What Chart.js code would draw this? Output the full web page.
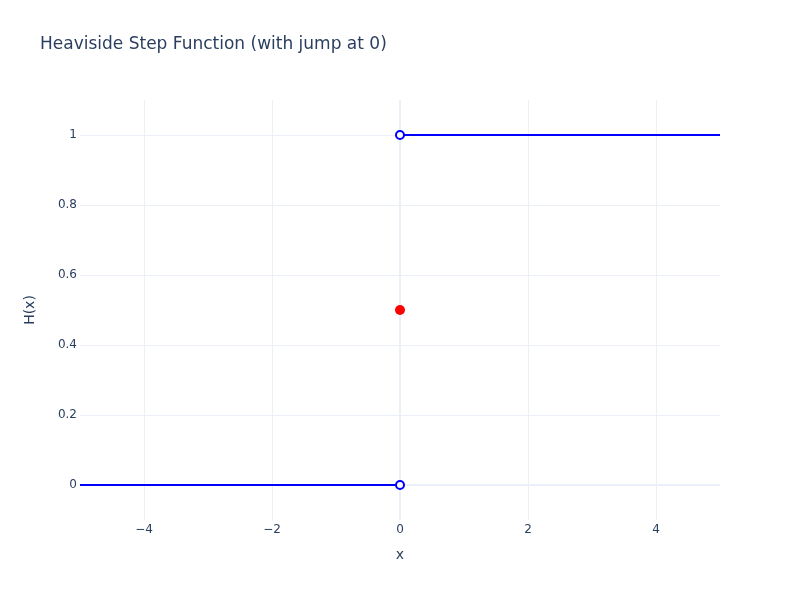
<!DOCTYPE html>
<html>
<head>
<meta charset="utf-8">
<script src="https://cdn.jsdelivr.net/npm/chart.js@4/dist/chart.umd.min.js"></script>
<style>
  html, body { margin: 0; padding: 0; background: #fff; }
  #wrap { width: 800px; height: 600px; position: relative; }
</style>
</head>
<body>
<div id="wrap"><canvas id="stepChart" width="800" height="600"></canvas></div>
<script>
// Data
const leftX = [-5, 0];
const leftY = [0, 0];
const rightX = [0, 5];
const rightY = [1, 1];
const openX = [0, 0];
const openY = [0, 1];
const jumpX = [0];
const jumpY = [0.5];
const xTicks = [-4, -2, 0, 2, 4];
const yTicks = [0, 0.2, 0.4, 0.6, 0.8, 1];

const textColor = '#2a3f5f';
const gridColor = '#ebf0f8';
const fontFamily = '"DejaVu Sans", verdana, arial, sans-serif';

function toPoints(xs, ys) {
    return xs.map((x, i) => ({ x: x, y: ys[i] }));
}

function fmt(v) {
    const s = String(Math.round(v * 10) / 10);
    return s.replace('-', '\u2212');
}

// Title drawn at top left like the reference
const titlePlugin = {
    id: 'leftTitle',
    afterDraw(chart) {
        const ctx = chart.ctx;
        ctx.save();
        ctx.fillStyle = textColor;
        ctx.font = '17px ' + fontFamily;
        ctx.textBaseline = 'middle';
        ctx.textAlign = 'left';
        ctx.fillText('Heaviside Step Function (with jump at 0)', 40, 45);
        ctx.restore();
    }
};

new Chart(document.getElementById('stepChart'), {
    type: 'scatter',
    data: {
        datasets: [
            {
                label: 'H(x) x<0',
                data: toPoints(leftX, leftY),
                showLine: true,
                borderColor: '#0000ff',
                borderWidth: 2,
                pointRadius: 0,
                order: 2
            },
            {
                label: 'H(x) x>0',
                data: toPoints(rightX, rightY),
                showLine: true,
                borderColor: '#0000ff',
                borderWidth: 2,
                pointRadius: 0,
                order: 2
            },
            {
                label: 'open',
                data: toPoints(openX, openY),
                pointRadius: 4,
                pointBorderWidth: 2,
                pointBackgroundColor: '#ffffff',
                pointBorderColor: '#0000ff',
                order: 1
            },
            {
                label: 'H(0)',
                data: toPoints(jumpX, jumpY),
                pointRadius: 5,
                pointBorderWidth: 0,
                pointBackgroundColor: '#ff0000',
                pointBorderColor: '#ff0000',
                order: 0
            }
        ]
    },
    options: {
        responsive: false,
        animation: false,
        layout: { padding: { top: 100, right: 80, bottom: 32, left: 20 } },
        plugins: {
            legend: { display: false },
            tooltip: { enabled: false },
            title: { display: false }
        },
        scales: {
            x: {
                type: 'linear',
                min: -5,
                max: 5,
                afterBuildTicks: scale => { scale.ticks = xTicks.map(v => ({ value: v })); },
                afterFit: scale => { scale.height = 48; },
                border: { display: false },
                grid: {
                    color: gridColor,
                    lineWidth: c => (c.tick && c.tick.value === 0 ? 2 : 1),
                    drawTicks: false
                },
                ticks: {
                    color: textColor,
                    font: { family: fontFamily, size: 12 },
                    padding: 3,
                    callback: v => fmt(v)
                },
                title: {
                    display: true,
                    text: 'x',
                    color: textColor,
                    font: { family: fontFamily, size: 14 },
                    padding: { top: 4, bottom: 4 }
                }
            },
            y: {
                type: 'linear',
                min: -0.1,
                max: 1.1,
                afterBuildTicks: scale => { scale.ticks = yTicks.map(v => ({ value: v })); },
                afterFit: scale => { scale.width = 60; },
                border: { display: false },
                grid: {
                    color: gridColor,
                    lineWidth: c => (c.tick && c.tick.value === 0 ? 2 : 1),
                    drawTicks: false
                },
                ticks: {
                    color: textColor,
                    font: { family: fontFamily, size: 12 },
                    padding: 3,
                    callback: v => fmt(v)
                },
                title: {
                    display: true,
                    text: 'H(x)',
                    color: textColor,
                    font: { family: fontFamily, size: 14 },
                    padding: { top: 2, bottom: 0 }
                }
            }
        }
    },
    plugins: [titlePlugin]
});
</script>
</body>
</html>
